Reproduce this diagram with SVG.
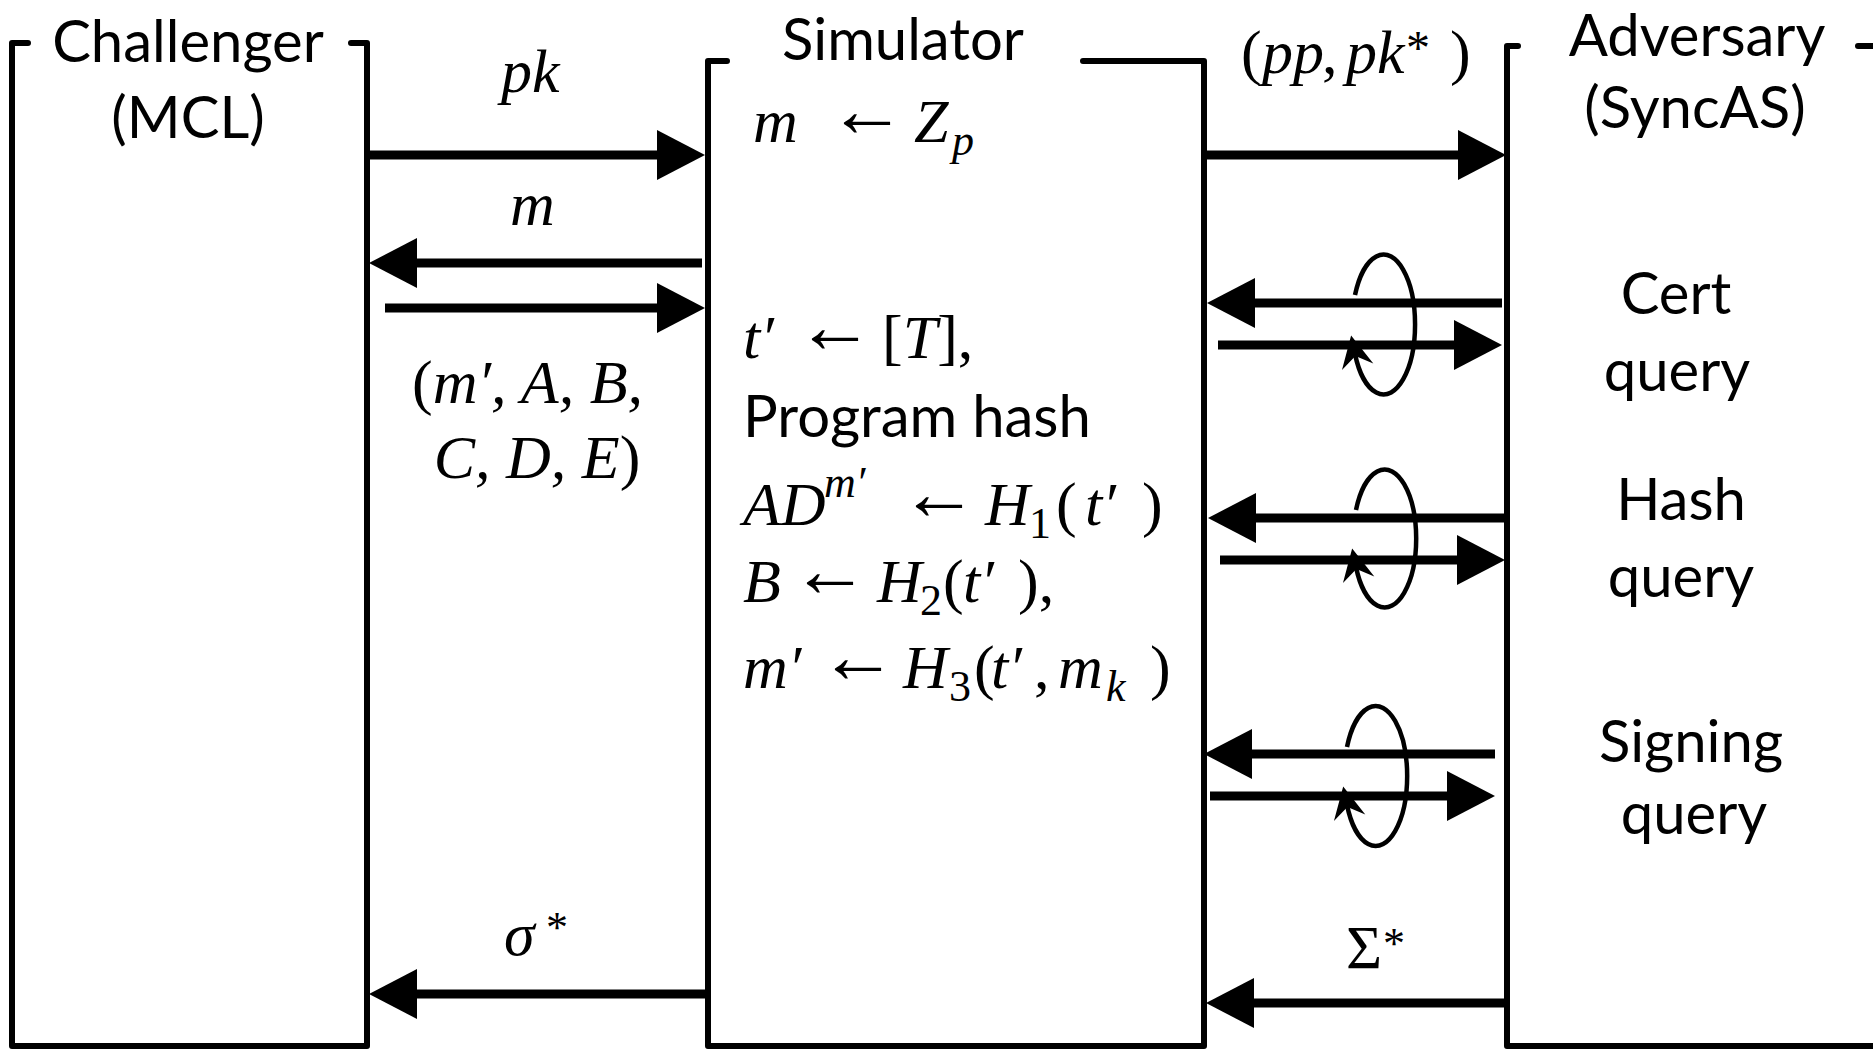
<svg xmlns="http://www.w3.org/2000/svg" width="1873" height="1051" viewBox="0 0 1873 1051">
<defs>
<style>
.box{fill:none;stroke:#000;stroke-width:6;stroke-linejoin:round;stroke-linecap:round}
.sans{font-family:Lato,"Liberation Sans",sans-serif;font-size:58px;fill:#000}
.math{font-family:"Liberation Serif",serif;font-style:italic;font-size:62px;fill:#000}
.up{font-style:normal}
.ar{font-style:normal;font-size:78px}
.sub{font-size:44px}
.arr{stroke:#000;stroke-width:9;fill:none;marker-end:url(#head)}
.loop{stroke:#000;stroke-width:4.5;fill:none;marker-end:url(#chev)}
</style>
<marker id="head" markerUnits="userSpaceOnUse" viewBox="0 0 48 50" refX="30" refY="25" markerWidth="48" markerHeight="50" orient="auto">
<path d="M0,0 L48,25 L0,50 Z" fill="#000"/>
</marker>
<marker id="chev" markerUnits="userSpaceOnUse" viewBox="0 0 34 34" refX="14" refY="17" markerWidth="34" markerHeight="34" orient="auto">
<path d="M33,17 L1,1 L12,17 L1,33 Z" fill="#000"/>
</marker>
</defs>
<rect width="1873" height="1051" fill="#fff"/>

<g id="challenger">
<path class="box" d="M28,43 H12 V1046 H367 V43 H351"/>
<text class="sans" x="188" y="62" text-anchor="middle">Challenger</text>
<text class="sans" x="188" y="138" text-anchor="middle">(MCL)</text>
</g>

<g id="simulator">
<path class="box" d="M727,61 H708 V1046 H1204 V61 H1083"/>
<text class="sans" x="903" y="60" text-anchor="middle">Simulator</text>
<text class="math"><tspan x="753" y="142">m</tspan><tspan class="ar" x="828" y="136">←</tspan><tspan x="914" y="142">Z</tspan><tspan class="sub" x="952" y="155">p</tspan></text>
<text class="math"><tspan x="743" y="358">t′</tspan><tspan class="ar" x="796" y="352">←</tspan><tspan class="up" x="882" y="358">[</tspan><tspan>T</tspan><tspan class="up">],</tspan></text>
<text class="sans" x="743" y="437">Program hash</text>
<text class="math"><tspan x="743" y="525">AD</tspan><tspan class="sub" x="824" y="497">m′</tspan><tspan class="ar" x="900" y="519">←</tspan><tspan x="985" y="525">H</tspan><tspan class="up sub" x="1029" y="538">1</tspan><tspan class="up" x="1056" y="525">(</tspan><tspan x="1085" y="525">t′</tspan><tspan class="up" x="1142" y="525">)</tspan></text>
<text class="math"><tspan x="743" y="602">B</tspan><tspan class="ar" x="791" y="596">←</tspan><tspan x="877" y="602">H</tspan><tspan class="up sub" x="920" y="615">2</tspan><tspan class="up" x="943" y="602">(</tspan><tspan x="963" y="602">t′</tspan><tspan class="up" x="1018" y="602">),</tspan></text>
<text class="math"><tspan x="743" y="688">m′</tspan><tspan class="ar" x="819" y="682">←</tspan><tspan x="903" y="688">H</tspan><tspan class="up sub" x="949" y="701">3</tspan><tspan class="up" x="974" y="688">(</tspan><tspan x="991" y="688">t′</tspan><tspan class="up" x="1034" y="688">,</tspan><tspan x="1058" y="688">m</tspan><tspan class="sub" x="1106" y="701">k</tspan><tspan class="up" x="1150" y="688">)</tspan></text>
</g>

<g id="adversary">
<path class="box" d="M1518,46 H1507 V1046 H1880"/>
<path class="box" d="M1858,46 H1878"/>
<text class="sans" x="1697" y="56" text-anchor="middle">Adversary</text>
<text class="sans" x="1695" y="128" text-anchor="middle">(SyncAS)</text>
<text class="sans" x="1676" y="314" text-anchor="middle">Cert</text>
<text class="sans" x="1677" y="391" text-anchor="middle">query</text>
<text class="sans" x="1681" y="520" text-anchor="middle">Hash</text>
<text class="sans" x="1681" y="597" text-anchor="middle">query</text>
<text class="sans" x="1691" y="762" text-anchor="middle">Signing</text>
<text class="sans" x="1694" y="834" text-anchor="middle">query</text>
</g>

<g id="connectors">
<line class="arr" x1="367" y1="155" x2="687" y2="155"/>
<text class="math" x="501" y="92">pk</text>
<line class="arr" x1="702" y1="263" x2="387" y2="263"/>
<text class="math" x="510" y="225">m</text>
<line class="arr" x1="385" y1="308" x2="687" y2="308"/>
<text class="math" x="412" y="403"><tspan class="up">(</tspan>m′, A, B,</text>
<text class="math" x="537" y="478" text-anchor="middle">C, D, E<tspan class="up">)</tspan></text>
<line class="arr" x1="708" y1="994" x2="387" y2="994"/>
<text class="math"><tspan x="504" y="955">σ</tspan><tspan class="up sub" x="546" y="942">*</tspan></text>

<line class="arr" x1="1204" y1="155" x2="1488" y2="155"/>
<text class="math"><tspan class="up" x="1241" y="73">(</tspan><tspan x="1262" y="73">pp</tspan><tspan class="up" x="1322" y="73">,</tspan><tspan x="1346" y="73">pk</tspan><tspan class="up" font-size="48" x="1406" y="64">*</tspan><tspan class="up" x="1450" y="73">)</tspan></text>

<line class="arr" x1="1502" y1="303" x2="1225" y2="303"/>
<line class="arr" x1="1218" y1="345" x2="1484" y2="345"/>
<path class="loop" d="M1355,295 A31.5,70 0 1 1 1355,354"/>

<line class="arr" x1="1505" y1="518" x2="1226" y2="518"/>
<line class="arr" x1="1220" y1="560" x2="1487" y2="560"/>
<path class="loop" d="M1356,510 A31.5,69 0 1 1 1356,567"/>

<line class="arr" x1="1495" y1="754" x2="1222" y2="754"/>
<line class="arr" x1="1210" y1="796" x2="1477" y2="796"/>
<path class="loop" d="M1347,747 A31.5,70 0 1 1 1347,805"/>

<line class="arr" x1="1505" y1="1003" x2="1224" y2="1003"/>
<text class="math"><tspan class="up" x="1346" y="968">Σ</tspan><tspan class="up" font-size="44" x="1383" y="958">*</tspan></text>
</g>
</svg>
